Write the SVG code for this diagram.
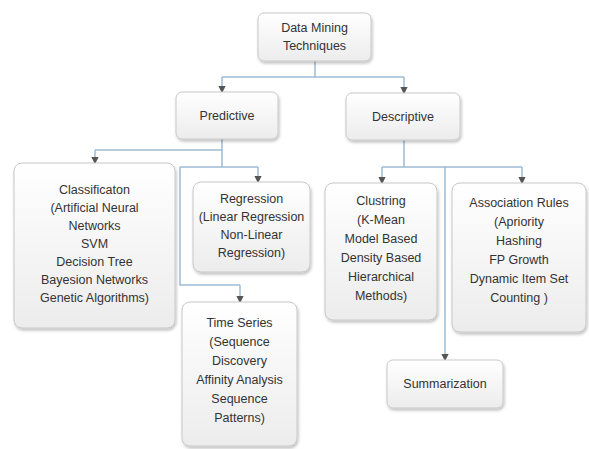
<svg xmlns="http://www.w3.org/2000/svg" width="589" height="449" viewBox="0 0 589 449">
<defs>
<linearGradient id="g" x1="0" y1="0" x2="0" y2="1">
<stop offset="0" stop-color="#ffffff"/>
<stop offset="1" stop-color="#ececec"/>
</linearGradient>
<filter id="sh" x="-10%" y="-10%" width="125%" height="125%">
<feDropShadow dx="1" dy="2" stdDeviation="1.5" flood-color="#000" flood-opacity="0.25"/>
</filter>
<marker id="ar" viewBox="0 0 6 6" refX="5" refY="3" markerWidth="5" markerHeight="5" orient="auto">
<path d="M0,0 L6,3 L0,6 z" fill="#555"/>
</marker>
</defs>
<style>
.box{fill:url(#g);stroke:#c8c8c8;stroke-width:1;filter:url(#sh)}
.t{font-family:"Liberation Sans",Arial,sans-serif;font-size:12.5px;fill:#333;text-anchor:middle}
.c{fill:none;stroke:#9ebbd3;stroke-width:1.5}
.a{fill:none;stroke:#9ebbd3;stroke-width:1.5;marker-end:url(#ar)}
</style>
<rect width="589" height="449" fill="#fff"/>
<g id="connectors">
<path class="c" d="M315,61 V77 M222,77 H404"/>
<path class="a" d="M222,77 V92"/>
<path class="a" d="M404,77 V93"/>
<path class="c" d="M222,139 V167 M95,150 H222 M180,167 H258 M180,167 V285 H240"/>
<path class="a" d="M95,150 V163"/>
<path class="a" d="M258,167 V182"/>
<path class="a" d="M240,285 V302"/>
<path class="c" d="M404,140 V167 M382,167 H522"/>
<path class="a" d="M382,167 V183"/>
<path class="a" d="M522,167 V183"/>
<path class="a" d="M445,167 V360"/>
</g>
<g id="root">
<rect class="box" x="258" y="13" width="113" height="48" rx="6"/>
<text class="t" x="314.5" y="32">Data Mining</text>
<text class="t" x="314.5" y="50">Techniques</text>
</g>
<g id="predictive">
<rect class="box" x="176" y="92" width="102" height="47" rx="6"/>
<text class="t" x="227" y="120">Predictive</text>
</g>
<g id="descriptive">
<rect class="box" x="346" y="93" width="114" height="47" rx="6"/>
<text class="t" x="403" y="121">Descriptive</text>
</g>
<g id="classification">
<rect class="box" x="14" y="163" width="161" height="165" rx="8"/>
<text class="t" x="94.5" y="194">Classificaton</text>
<text class="t" x="94.5" y="212">(Artificial Neural</text>
<text class="t" x="94.5" y="230">Networks</text>
<text class="t" x="94.5" y="248">SVM</text>
<text class="t" x="94.5" y="266">Decision Tree</text>
<text class="t" x="94.5" y="284">Bayesion Networks</text>
<text class="t" x="94.5" y="302">Genetic Algorithms)</text>
</g>
<g id="regression">
<rect class="box" x="193" y="182" width="117" height="90" rx="8"/>
<text class="t" x="251.5" y="203">Regression</text>
<text class="t" x="251.5" y="221">(Linear Regression</text>
<text class="t" x="251.5" y="239">Non-Linear</text>
<text class="t" x="251.5" y="257">Regression)</text>
</g>
<g id="timeseries">
<rect class="box" x="182" y="302" width="115" height="144" rx="8"/>
<text class="t" x="239.5" y="327">Time Series</text>
<text class="t" x="239.5" y="346">(Sequence</text>
<text class="t" x="239.5" y="365">Discovery</text>
<text class="t" x="239.5" y="384">Affinity Analysis</text>
<text class="t" x="239.5" y="403">Sequence</text>
<text class="t" x="239.5" y="422">Patterns)</text>
</g>
<g id="clustering">
<rect class="box" x="325" y="183" width="112" height="137" rx="8"/>
<text class="t" x="381" y="205">Clustring</text>
<text class="t" x="381" y="224">(K-Mean</text>
<text class="t" x="381" y="243">Model Based</text>
<text class="t" x="381" y="262">Density Based</text>
<text class="t" x="381" y="281">Hierarchical</text>
<text class="t" x="381" y="300">Methods)</text>
</g>
<g id="association">
<rect class="box" x="452" y="183" width="134" height="149" rx="8"/>
<text class="t" x="519" y="207">Association Rules</text>
<text class="t" x="519" y="226">(Apriority</text>
<text class="t" x="519" y="245">Hashing</text>
<text class="t" x="519" y="264">FP Growth</text>
<text class="t" x="519" y="283">Dynamic Item Set</text>
<text class="t" x="519" y="302">Counting )</text>
</g>
<g id="summarization">
<rect class="box" x="387" y="360" width="116" height="48" rx="6"/>
<text class="t" x="445" y="388">Summarization</text>
</g>
</svg>
